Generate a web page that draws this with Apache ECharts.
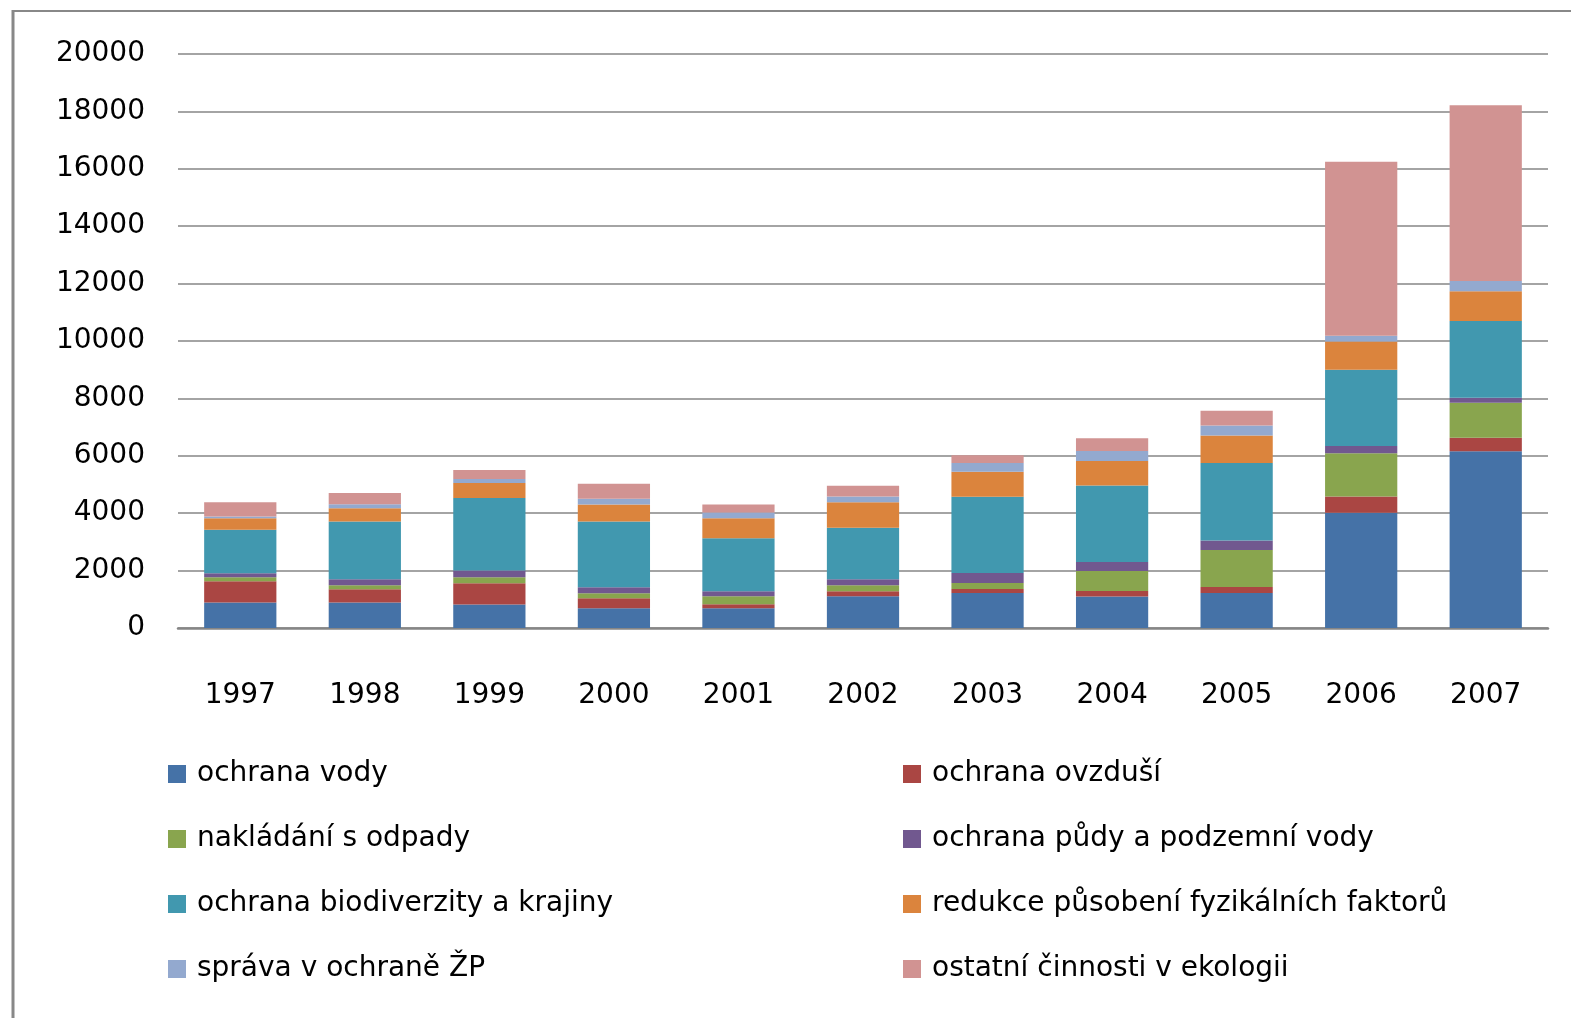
<!DOCTYPE html>
<html>
<head>
<meta charset="utf-8">
<script src="https://cdn.jsdelivr.net/npm/echarts@6/dist/echarts.min.js"></script>
<style>
html,body{margin:0;padding:0;background:#fff;}
#chart{width:1571px;height:1018px;}
</style>
</head>
<body>
<div id="chart"></div>
<script>
const years = ['1997','1998','1999','2000','2001','2002','2003','2004','2005','2006','2007'];
const ochranaVody = [890, 890, 820, 690, 690, 1110, 1220, 1100, 1220, 4020, 6160];
const ochranaOvzdusi = [740, 460, 740, 350, 140, 170, 140, 190, 210, 560, 470];
const nakladaniOdpady = [140, 140, 210, 170, 280, 210, 210, 700, 1290, 1510, 1220];
const ochranaPudy = [140, 210, 230, 210, 170, 210, 350, 310, 330, 250, 175];
const ochranaBiodiverzity = [1515, 2010, 2526, 2290, 1850, 1790, 2656, 2665, 2700, 2660, 2675];
const redukceFaktoru = [400, 465, 525, 590, 690, 890, 870, 850, 955, 980, 1037];
const spravaZP = [60, 140, 140, 200, 205, 205, 300, 350, 355, 200, 350];
const ostatniCinnosti = [500, 385, 310, 525, 275, 375, 270, 450, 510, 6065, 6130];

const seriesNames = ['ochrana vody','ochrana ovzduší','nakládání s odpady','ochrana půdy a podzemní vody','ochrana biodiverzity a krajiny','redukce působení fyzikálních faktorů','správa v ochraně ŽP','ostatní činnosti v ekologii'];
const seriesData = [ochranaVody, ochranaOvzdusi, nakladaniOdpady, ochranaPudy, ochranaBiodiverzity, redukceFaktoru, spravaZP, ostatniCinnosti];
const colors = ['#4572A7','#AA4643','#89A54E','#71588F','#4198AF','#DB843D','#93A9CF','#D19392'];

const FONT = 'DejaVu Sans';
const chart = echarts.init(document.getElementById('chart'));
const legendText = {fontFamily: FONT, fontSize: 28, color: '#000', lineHeight: 28, padding: [0, 0, 0, 6]};
chart.setOption({
  animation: false,
  color: colors,
  grid: {left: 178, right: 23, top: 54, bottom: 390},
  xAxis: {
    type: 'category',
    data: years,
    axisTick: {show: false},
    axisLine: {lineStyle: {color: '#868686', width: 2.5}},
    axisLabel: {fontFamily: FONT, fontSize: 28, color: '#000', margin: 54}
  },
  yAxis: {
    type: 'value',
    min: 0, max: 20000, interval: 2000,
    axisLine: {show: false},
    axisTick: {show: false},
    axisLabel: {fontFamily: FONT, fontSize: 28, color: '#000', margin: 33, formatter: v => String(v)},
    splitLine: {lineStyle: {color: '#868686', width: 1.5}}
  },
  legend: [
    {
      orient: 'vertical', left: 168, top: 760, padding: 0,
      itemWidth: 18, itemHeight: 18, itemGap: 37,
      icon: 'rect',
      textStyle: legendText,
      data: [seriesNames[0], seriesNames[2], seriesNames[4], seriesNames[6]]
    },
    {
      orient: 'vertical', left: 903, top: 760, padding: 0,
      itemWidth: 18, itemHeight: 18, itemGap: 37,
      icon: 'rect',
      textStyle: legendText,
      data: [seriesNames[1], seriesNames[3], seriesNames[5], seriesNames[7]]
    }
  ],
  graphic: [
    {type: 'line', shape: {x1: 13, y1: 11, x2: 1571, y2: 11}, style: {stroke: '#888', lineWidth: 2}},
    {type: 'line', shape: {x1: 13, y1: 10, x2: 13, y2: 1018}, style: {stroke: '#888', lineWidth: 3}}
  ],
  series: seriesNames.map((n, i) => ({
    name: n,
    type: 'bar',
    stack: 'total',
    barWidth: '58%',
    data: seriesData[i]
  }))
});
</script>
</body>
</html>
